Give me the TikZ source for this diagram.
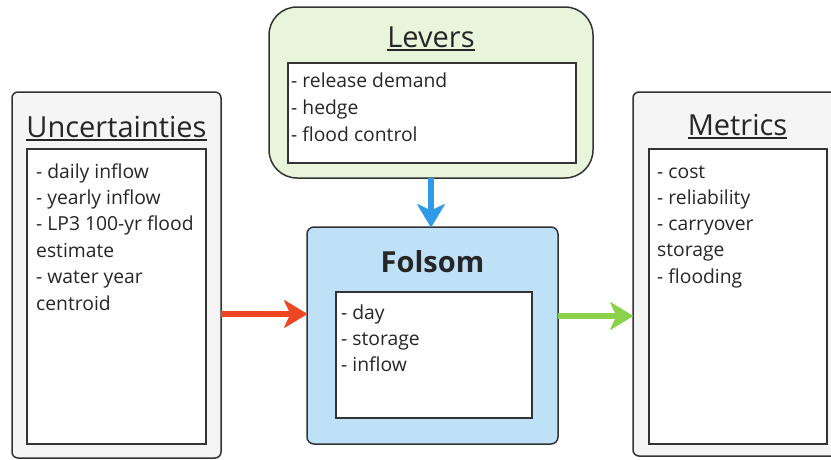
\documentclass[tikz,border=0pt]{standalone}
\usepackage{fontspec}
\setmainfont{Open Sans}
\usetikzlibrary{arrows.meta}
\definecolor{edgec}{HTML}{333333}
\definecolor{grayfill}{HTML}{F5F5F5}
\definecolor{greenfill}{HTML}{E9F5DB}
\definecolor{bluefill}{HTML}{BFE1F8}
\definecolor{redarr}{HTML}{EE4623}
\definecolor{bluearr}{HTML}{2E9AE8}
\definecolor{greenarr}{HTML}{8CD14B}
\definecolor{textc}{HTML}{262626}
\tikzset{
  outerbox/.style={draw=edgec, line width=1.5pt, inner sep=0pt, outer sep=0pt},
  innerbox/.style={draw=edgec, line width=1.5pt, fill=white, inner sep=0pt, outer sep=0pt},
  titletext/.style={font=\fontsize{29}{36}\selectfont, text=textc, inner sep=0pt, anchor=base},
  itemtext/.style={font=\fontsize{19.3}{26}\selectfont, text=textc, inner sep=0pt, anchor=base west},
  uline/.style={line width=1.6pt, draw=textc},
  flowarrow/.style={line width=6pt, -{Stealth[length=24pt, width=29pt, inset=7pt, round, line width=1pt]}},
}
\begin{document}
\begin{tikzpicture}[x=1pt, y=-1pt]
\useasboundingbox (0,0) rectangle (831,459);
\clip (0,0) rectangle (831,459);

% Uncertainties
\node[outerbox, fill=grayfill, rounded corners=6pt, minimum width=209pt, minimum height=366pt] (unc) at (116.5,275) {};
\node[innerbox, minimum width=179pt, minimum height=295pt] (unci) at (116.5,296.5) {};
\node[titletext] (unct) at (116.5,137) {Uncertainties};
\draw[uline] ([yshift=-3pt]unct.base west) -- ([yshift=-3pt]unct.base east);
\node[itemtext] (u1) at (36,178) {- daily inflow};
\node[itemtext] (u2) at (36,204.4) {- yearly inflow};
\node[itemtext] (u3) at (36,230.8) {- LP3 100-yr flood};
\node[itemtext] (u4) at (36,257.2) {estimate};
\node[itemtext] (u5) at (36,283.6) {- water year};
\node[itemtext] (u6) at (36,310) {centroid};

% Levers
\node[outerbox, fill=greenfill, rounded corners=28pt, minimum width=324pt, minimum height=171pt] (lev) at (431,92.5) {};
\node[innerbox, minimum width=288pt, minimum height=100pt] (levi) at (432,113) {};
\node[titletext] (levt) at (431,47) {Levers};
\draw[uline] ([yshift=-3pt]levt.base west) -- ([yshift=-3pt]levt.base east);
\node[itemtext] (l1) at (291,87.3) {- release demand};
\node[itemtext] (l2) at (291,114.3) {- hedge};
\node[itemtext] (l3) at (291,141.3) {- flood control};

% Folsom
\node[outerbox, fill=bluefill, rounded corners=7pt, minimum width=251pt, minimum height=217pt] (fol) at (432.5,335.5) {};
\node[innerbox, minimum width=196pt, minimum height=126pt] (foli) at (434,355) {};
\node[titletext, font=\fontsize{29}{36}\selectfont\bfseries] (folt) at (432.5,272) {Folsom};
\node[itemtext] (f1) at (341,319.3) {- day};
\node[itemtext] (f2) at (341,345.5) {- storage};
\node[itemtext] (f3) at (341,371.7) {- inflow};

% Metrics
\node[outerbox, fill=grayfill, rounded corners=6pt, minimum width=209pt, minimum height=364pt] (met) at (737.5,274) {};
\node[innerbox, minimum width=178pt, minimum height=295pt] (meti) at (738,296.5) {};
\node[titletext] (mett) at (737.5,135) {Metrics};
\draw[uline] ([yshift=-3pt]mett.base west) -- ([yshift=-3pt]mett.base east);
\node[itemtext] (m1) at (657,178) {- cost};
\node[itemtext] (m2) at (657,204.3) {- reliability};
\node[itemtext] (m3) at (657,230.6) {- carryover};
\node[itemtext] (m4) at (657,256.9) {storage};
\node[itemtext] (m5) at (657,283.2) {- flooding};

% Connectors
\coordinate (ry) at (0,314);
\coordinate (gy) at (0,316);
\draw[flowarrow, draw=redarr, fill=redarr] (unc.east |- ry) -- (fol.west |- ry);
\draw[flowarrow, draw=greenarr, fill=greenarr] (fol.east |- gy) -- (met.west |- gy);
\draw[flowarrow, draw=bluearr, fill=bluearr] (lev.south) -- (lev.south |- fol.north);
\end{tikzpicture}
\end{document}
